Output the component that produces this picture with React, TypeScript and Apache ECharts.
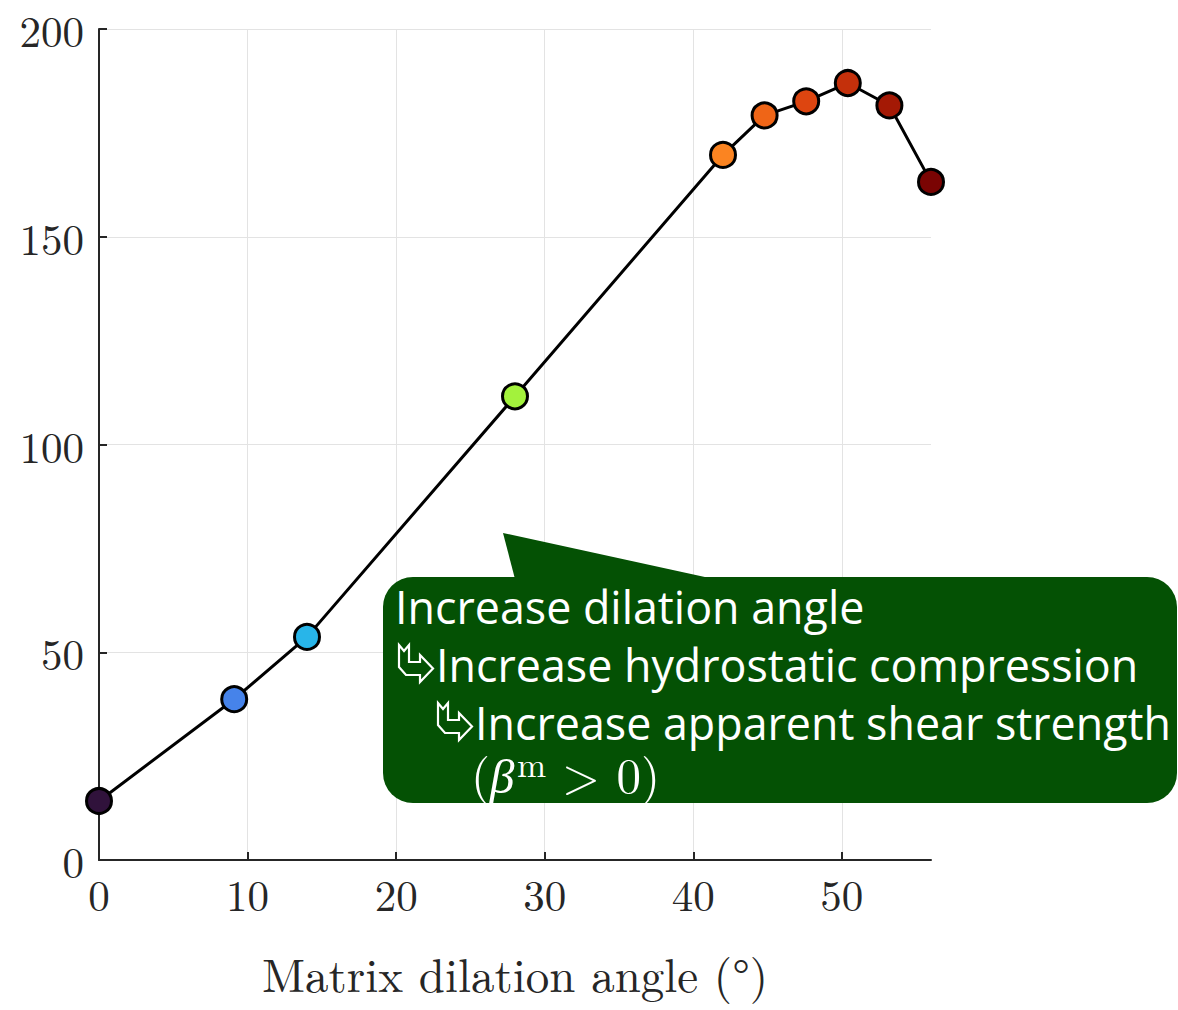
import React, { useEffect, useRef } from "react";
import * as echarts from "echarts";

// Matrix dilation angle (degrees) and the response at each angle
const angles = [0, 9.1, 14, 28, 42, 44.8, 47.6, 50.4, 53.2, 56];
const values = [14.2, 38.7, 53.7, 111.6, 169.7, 179.2, 182.6, 187.0, 181.6, 163.2];
const markerColors = [
  "#30123b", "#4683ea", "#28b5e9", "#a3f23c", "#fb8421",
  "#ef6517", "#dd4510", "#c4300b", "#a41905", "#7a0403",
];
const xTicks = [0, 10, 20, 30, 40, 50];
const yTicks = [0, 50, 100, 150, 200];

const xName = "Matrix dilation angle (°)";
const noteLines = [
  "Increase dilation angle",
  "Increase hydrostatic compression",
  "Increase apparent shear strength",
];

const SERIF = "'Latin Modern Roman', 'Liberation Serif', 'DejaVu Serif', serif";
const SANS = "'Open Sans', 'Noto Sans', sans-serif";
const INK = "#262626";
const BOX = "#045104";
const NOTE_FONT = `44.8px ${SANS}`;

// Outline of a ribbon arrow turning down-right
const ribbonArrow = (x: number, y: number) => ({
  type: "polygon",
  x,
  y,
  shape: {
    points: [
      [1, 0], [6, 6], [11, 0], [11, 17], [22, 17], [22, 10],
      [35, 23.5], [22, 37], [22, 30], [8, 30], [1, 22],
    ],
  },
  style: { fill: "none", stroke: "#ffffff", lineWidth: 2.2, lineJoin: "miter" },
  z: 20,
});

const whiteText = (x: number, y: number, text: string, font: string) => ({
  type: "text",
  x,
  y,
  style: { text, fill: "#ffffff", font, verticalAlign: "middle" },
  z: 20,
});

export default function App() {
  const ref = useRef<HTMLDivElement>(null);

  useEffect(() => {
    if (!ref.current) return;
    const chart = echarts.init(ref.current, undefined, { renderer: "svg" });

    chart.setOption({
      animation: false,
      backgroundColor: "#ffffff",
      grid: { left: 99, right: 247, top: 29, bottom: 150, containLabel: false },
      xAxis: {
        type: "value",
        min: 0,
        max: 56,
        interval: 10,
        name: xName,
        nameLocation: "middle",
        nameGap: 89,
        nameTextStyle: { fontFamily: SERIF, fontSize: 47, color: INK },
        axisLine: { show: true, lineStyle: { color: INK, width: 2 } },
        axisTick: {
          show: true,
          inside: true,
          length: 8,
          customValues: xTicks,
          lineStyle: { color: INK, width: 2 },
        },
        axisLabel: {
          customValues: xTicks,
          margin: 11,
          fontFamily: SERIF,
          fontSize: 43,
          color: INK,
        },
        splitLine: { show: true, lineStyle: { color: "#e3e3e3", width: 1 } },
      },
      yAxis: {
        type: "value",
        min: 0,
        max: 200,
        interval: 50,
        axisLine: { show: true, lineStyle: { color: INK, width: 2 } },
        axisTick: {
          show: true,
          inside: true,
          length: 8,
          customValues: yTicks,
          lineStyle: { color: INK, width: 2 },
        },
        axisLabel: {
          customValues: yTicks,
          margin: 15,
          fontFamily: SERIF,
          fontSize: 43,
          color: INK,
        },
        splitLine: { show: true, lineStyle: { color: "#e3e3e3", width: 1 } },
      },
      series: [
        {
          type: "line",
          data: angles.map((a, i) => ({
            value: [a, values[i]],
            itemStyle: { color: markerColors[i], borderColor: "#000000", borderWidth: 3 },
          })),
          lineStyle: { color: "#000000", width: 3 },
          symbol: "circle",
          symbolSize: 25,
          showSymbol: true,
          z: 5,
        },
      ],
      graphic: [
        {
          type: "polygon",
          shape: { points: [[503, 533], [515, 579], [714, 579]] },
          style: { fill: BOX },
          z: 10,
        },
        {
          type: "rect",
          shape: { x: 383, y: 577, width: 794, height: 226, r: 30 },
          style: { fill: BOX },
          z: 10,
        },
        whiteText(395, 606, noteLines[0], NOTE_FONT),
        ribbonArrow(398, 645),
        whiteText(436, 664, noteLines[1], NOTE_FONT),
        ribbonArrow(437, 703),
        whiteText(475, 722, noteLines[2], NOTE_FONT),
        // (β^m > 0)
        whiteText(471, 772, "(", `49px ${SERIF}`),
        whiteText(490, 772, "β", `italic 49px ${SERIF}`),
        whiteText(517, 762, "m", `35px ${SERIF}`),
        whiteText(562, 772, "> 0)", `49px ${SERIF}`),
      ],
    });

    return () => chart.dispose();
  }, []);

  return (
    <div
      ref={ref}
      style={{ position: "absolute", left: 0, top: 0, width: 1178, height: 1010 }}
    />
  );
}
